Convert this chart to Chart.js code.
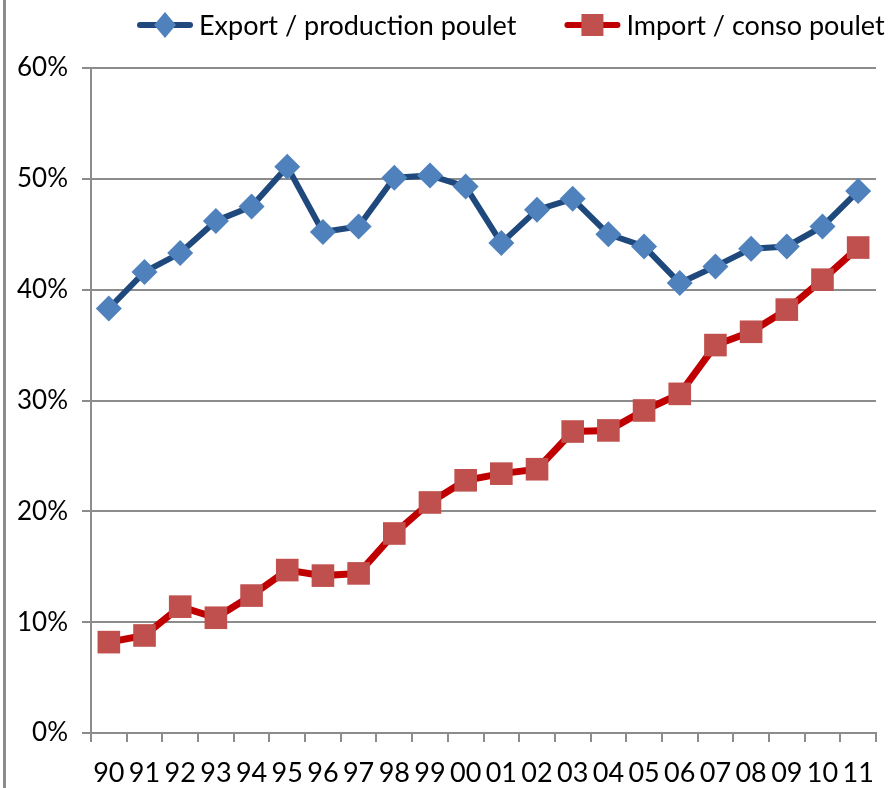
<!DOCTYPE html>
<html>
<head>
<meta charset="utf-8">
<script src="https://cdn.jsdelivr.net/npm/chart.js@4"></script>
<style>
  html, body { margin: 0; padding: 0; background: #fff; }
  .wrap { position: relative; width: 892px; height: 788px; }
  .wrap::before { content: ''; position: absolute; left: 3px; top: 0; width: 3px; height: 788px; background: #8c8c8c; }
</style>
</head>
<body>
<div class="wrap"><canvas id="chart" width="892" height="788"></canvas></div>
<script>
// 연도 (카테고리)
const years = ['90','91','92','93','94','95','96','97','98','99','00','01','02','03','04','05','06','07','08','09','10','11'];
// Export / production poulet (%)
const exportShare = [38.3, 41.6, 43.3, 46.2, 47.5, 51.1, 45.2, 45.7, 50.1, 50.3, 49.3, 44.2, 47.2, 48.2, 45.0, 43.9, 40.6, 42.1, 43.7, 43.9, 45.7, 48.9];
// Import / conso poulet (%)
const importShare = [8.2, 8.8, 11.4, 10.4, 12.4, 14.7, 14.2, 14.4, 18.0, 20.8, 22.8, 23.4, 23.8, 27.2, 27.3, 29.1, 30.6, 35.0, 36.2, 38.2, 40.9, 43.8];
const yTicks = [0, 10, 20, 30, 40, 50, 60];

const FONT = "Lato, 'Open Sans', sans-serif";

// 범례 직접 그리기 (선 + 마커 + 텍스트)
const customLegend = {
    id: 'customLegend',
    afterDraw(chart) {
        const c = chart.ctx;
        const y = 25;
        let x = chart.chartArea.left + 46;
        c.save();
        c.font = '27px ' + FONT;
        c.textBaseline = 'middle';
        chart.data.datasets.forEach(ds => {
            c.strokeStyle = ds.borderColor;
            c.lineWidth = 6;
            c.lineCap = 'round';
            c.beginPath(); c.moveTo(x + 3, y); c.lineTo(x + 53, y); c.stroke();
            c.fillStyle = ds.pointBackgroundColor;
            if (ds.pointStyle === 'rectRot') {
                c.beginPath();
                c.moveTo(x + 28, y - 13); c.lineTo(x + 39, y); c.lineTo(x + 28, y + 13); c.lineTo(x + 17, y);
                c.closePath(); c.fill();
            } else {
                c.fillRect(x + 17, y - 11, 22, 22);
            }
            c.fillStyle = '#000';
            c.fillText(ds.label, x + 62, y + 1);
            x += 62 + c.measureText(ds.label).width + 48;
        });
        c.restore();
    }
};

const ctx = document.getElementById('chart');
new Chart(ctx, {
    type: 'line',
    data: {
        labels: years,
        datasets: [{
            label: 'Export / production poulet',
            data: exportShare,
            borderColor: '#1F497D',
            backgroundColor: '#4F81BD',
            borderWidth: 6,
            pointStyle: 'rectRot',
            pointRadius: 13,
            pointBorderWidth: 0,
            pointBackgroundColor: '#4F81BD',
            tension: 0
        }, {
            label: 'Import / conso poulet',
            data: importShare,
            borderColor: '#C00000',
            backgroundColor: '#C0504D',
            borderWidth: 7,
            pointStyle: 'rect',
            pointRadius: 16,
            pointBorderWidth: 0,
            pointBackgroundColor: '#C0504D',
            tension: 0
        }]
    },
    options: {
        responsive: false,
        animation: false,
        layout: { padding: { left: 7, right: 9, top: 68, bottom: 0 } },
        plugins: {
            legend: { display: false },
            tooltip: { enabled: false }
        },
        scales: {
            x: {
                offset: true,
                afterFit: axis => { axis.height = 55; },
                grid: {
                    offset: true,
                    drawOnChartArea: false,
                    drawTicks: true,
                    tickLength: 9,
                    color: '#8c8c8c',
                    lineWidth: 2
                },
                border: { color: '#8c8c8c', width: 2 },
                ticks: {
                    color: '#000',
                    font: { family: FONT, size: 27 },
                    maxRotation: 0,
                    autoSkip: false,
                    padding: 15
                }
            },
            y: {
                min: 0,
                max: 60,
                afterFit: axis => { axis.width = 84; },
                afterBuildTicks: function(axis) {
                    axis.ticks = yTicks.map(v => ({ value: v }));
                },
                grid: {
                    color: '#8c8c8c',
                    lineWidth: 2,
                    tickLength: 9
                },
                border: { color: '#8c8c8c', width: 2 },
                ticks: {
                    color: '#000',
                    font: { family: FONT, size: 26 },
                    padding: 14,
                    callback: v => v + '%'
                }
            }
        }
    },
    plugins: [customLegend]
});
</script>
</body>
</html>
